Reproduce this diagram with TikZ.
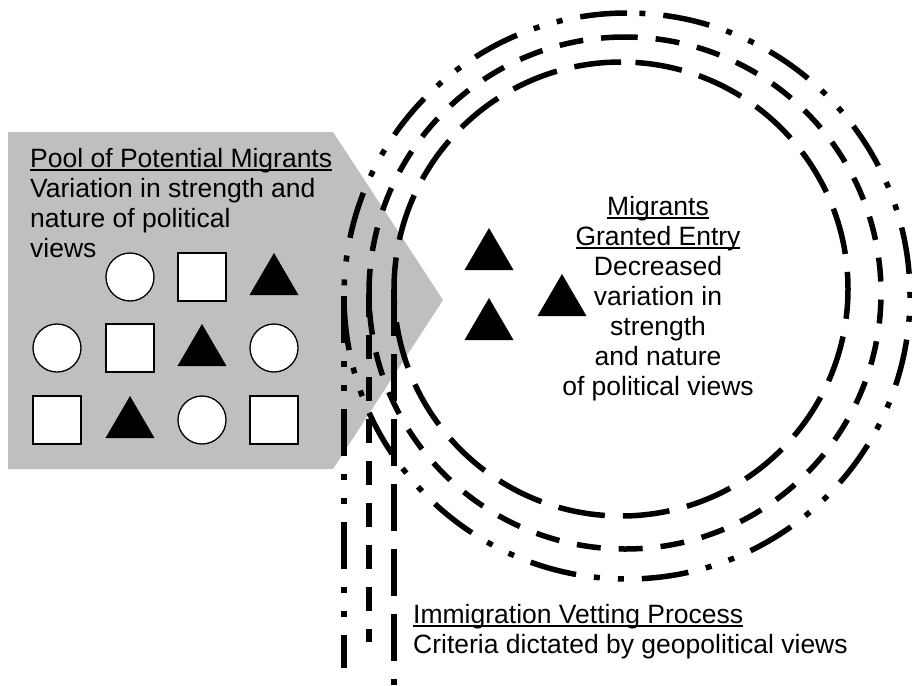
\documentclass[tikz,border=0pt]{standalone}
\usepackage{fontspec}
\setmainfont{Liberation Sans}
% underline drawn as a rule just under the baseline
\newcommand\ulin[1]{\leavevmode\setbox0\hbox{#1}\rlap{\rule[-4.3pt]{\wd0}{2pt}}\box0}
% tokens: circle, square and filled triangle centred at (#1,#2)
\newcommand\tokcirc[2]{\draw[token] (#1,#2) circle[radius=24pt];}
\newcommand\toksq[2]{\draw[token] ({#1-24},{#2-24}) rectangle ({#1+24},{#2+24});}
\newcommand\toktri[2]{\fill[black] ({#1-24.5},{#2+18}) -- (#1,{#2-24}) -- ({#1+24.5},{#2+18}) -- cycle;}
\begin{document}
\begin{tikzpicture}[x=1pt,y=-1pt,
  lbl/.style={inner sep=0pt, font=\fontsize{26.5}{30}\selectfont},
  token/.style={draw=black, fill=white, line width=1.3pt},
  ring/.style={line width=5.5pt},
  longdash/.style={ring, dash pattern=on 47pt off 18pt},
  shortdash/.style={ring, dash pattern=on 24pt off 18pt},
  dashdotdot/.style={ring, dash pattern=on 47pt off 18pt on 6pt off 18pt on 6pt off 18pt}]
\useasboundingbox (0,0) rectangle (912,685);

% pool of potential migrants (grey arrow block)
\fill[gray!50] (8,132) -- (333,132) -- (443,300) -- (333,469) -- (8,469) -- cycle;

% tokens in the pool
\tokcirc{130}{277} \toksq{202}{277} \toktri{274}{277}
\tokcirc{57}{348} \toksq{130}{348} \toktri{202}{348} \tokcirc{274}{348}
\toksq{57}{420} \toktri{130}{420} \tokcirc{202}{420} \toksq{274}{420}

% vetting rings, each with a vertical tail from its leftmost point
\draw[longdash] (621,62) arc[start angle=90, end angle=450, radius=227pt];
\draw[longdash] (394,289) -- (394,685);
\draw[shortdash] (625,37) arc[start angle=90, end angle=450, radius=256pt];
\draw[shortdash] (369,293) -- (369,642);
\draw[dashdotdot] (627,13) arc[start angle=90, end angle=450, radius=283pt];
\draw[dashdotdot] (344,296) -- (344,668);

% migrants granted entry
\toktri{489}{252} \toktri{489}{322} \toktri{562}{298}

% labels (base anchor sits on the last line)
\node[lbl, anchor=base west, align=left] (pooltxt) at (30,257)
  {\ulin{Pool of Potential Migrants}\\Variation in strength and\\nature of political\\views};
\node[lbl, anchor=base, align=center] (granted) at (658,395)
  {\ulin{Migrants}\\\ulin{Granted Entry}\\Decreased\\variation in\\strength\\and nature\\of political views};
\node[lbl, anchor=base west, align=left] (vetting) at (413,653)
  {\ulin{Immigration Vetting Process}\\Criteria dictated by geopolitical views};
\end{tikzpicture}
\end{document}
